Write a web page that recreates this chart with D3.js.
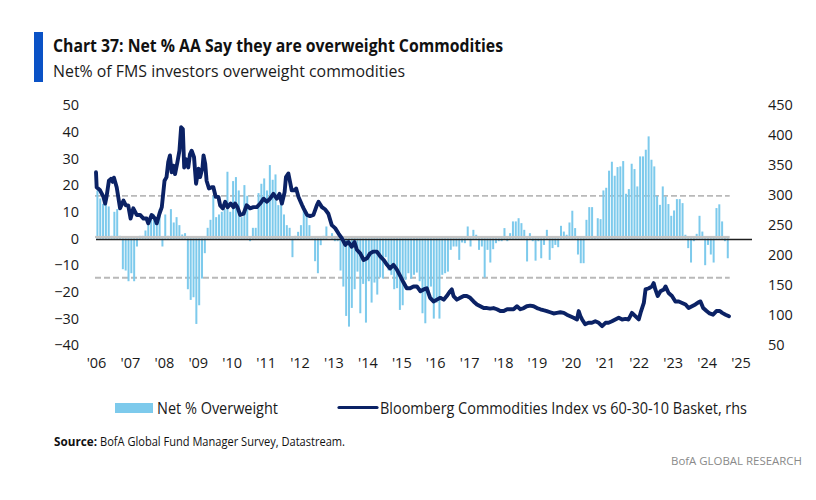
<!DOCTYPE html>
<html>
<head>
<meta charset="utf-8">
<script src="https://cdn.jsdelivr.net/npm/d3@7"></script>
<style>
  html, body { margin: 0; padding: 0; background: #fff; }
  svg { display: block; }
  text { font-family: "Open Sans", "Noto Sans", sans-serif; }
</style>
</head>
<body>
<svg id="chart" width="816" height="500"></svg>
<script>
// ---------------- DATA ----------------
const titleText = "Chart 37: Net % AA Say they are overweight Commodities";
const subtitleText = "Net% of FMS investors overweight commodities";
const barSeriesName = "Net % Overweight";
const lineSeriesName = "Bloomberg Commodities Index vs 60-30-10 Basket, rhs";
const sourceLabel = "Source:";
const sourceText = "BofA Global Fund Manager Survey, Datastream.";
const brandText = "BofA GLOBAL RESEARCH";

const leftTicks = [50, 40, 30, 20, 10, 0, -10, -20, -30, -40];
const rightTicks = [450, 400, 350, 300, 250, 200, 150, 100, 50];
const yearTicks = [2006,2007,2008,2009,2010,2011,2012,2013,2014,2015,2016,2017,2018,2019,2020,2021,2022,2023,2024,2025];
const yearLabels = ["'06","'07","'08","'09","'10","'11","'12","'13","'14","'15","'16","'17","'18","'19","'20","'21","'22","'23","'24","'25"];
const bandLevels = [16, -14.7];   // dashed reference lines (left axis)

// Monthly Net % overweight, starting Jan 2006
const barStart = 2006;
const netOverweight = [
  18, 15, 13, 13, 12, 1, 10, 11, 1, -11.5, -12, -16,
  -13, -16, -3, 1, 1, 3, 7, 9, 9, 8, 11, -3,
  9, 1, 11, 6, 8, 5, 1.5, 2, -19, -23, -22, -32,
  -25, -15, -5.5, 4, 7, 16, 8, 9, 10, 11, 25, 10,
  21.5, 23, 18, 8, 20, 16, -1, 4, 4, 17, 20.5, 22.5,
  18, 27.5, 22, 24, 12.5, 15, 9, 5, 4, -7, 1, 2.5,
  5, 12, 10, 5, -0.5, -8.5, -13, -2.5, 1, 4.5, 0, 2,
  -1, -1, -12, -18, -29, -33, -26, -19, -12.4, -28, -17, -31.5,
  -16, -24, -16.5, -21, -14.6, -15, -7, -12, -13.6, -19, -18.6, -26.75,
  -25, -15.5, -13, -15, -13.6, -12.75, -16, -28, -31.75, -20.5, -18, -30,
  -24, -30, -13.6, -13, -12.4, -4.25, -3, -3, -8, -1.5, -1.75, 4.5,
  -3, 3.25, 1.4, -4.25, -3, -14.6, -4.25, -9, -4, -1.75, -1, -1,
  3.9, -1, 2, 6.4, 6.4, 7.6, 5.75, 3.25, -8.6, 2, -1, -8.3,
  -1, -7.4, -2.4, 3.25, -8, -3.6, -2.4, -3.25, 4.75, 2.6, 1.4, 6,
  10.4, 3.9, -6, -9.25, -9.25, 7, 11.75, 11.75, 0.75, 7.6, 7.25, 18,
  19, 25.4, 28.75, 23.5, 26.75, 27, 29, 16.75, 18.5, 28, 26, 19.5,
  30.75, 30.75, 33.25, 38.25, 29.5, 27, 16, 12.6, 19.5, 15.75, 12.9, 8.5,
  10.5, 14.75, 14.75, 13.25, 1.4, -3.6, -9, -1, 1.75, 8.5, 2.6, -10,
  -2.4, -6, -9, 11.4, 12.8, 6.4, -1, -7.4
];

// Bloomberg Commodities Index vs 60-30-10 basket (rhs), decimal years
const lineYears = [
  2006.00,2006.02,2006.12,2006.22,2006.27,2006.31,2006.38,2006.44,2006.49,2006.53,2006.61,2006.71,2006.81,2006.88,2006.95,
  2007.02,2007.10,2007.20,2007.30,2007.40,2007.49,2007.54,2007.64,2007.74,2007.79,2007.87,2007.94,
  2008.02,2008.08,2008.13,2008.18,2008.23,2008.28,2008.33,2008.40,2008.46,2008.51,2008.56,2008.60,2008.65,2008.72,2008.77,2008.82,2008.89,2008.95,
  2009.02,2009.07,2009.14,2009.17,2009.22,2009.26,2009.33,2009.41,2009.46,2009.53,2009.61,2009.66,2009.74,2009.81,2009.88,2009.97,
  2010.05,2010.10,2010.17,2010.25,2010.35,2010.44,2010.54,2010.64,2010.74,2010.84,2010.94,
  2011.04,2011.13,2011.23,2011.33,2011.41,2011.48,2011.56,2011.60,2011.67,2011.72,2011.77,2011.85,2011.90,2011.97,
  2012.07,2012.12,2012.22,2012.31,2012.41,2012.51,2012.56,2012.66,2012.76,2012.85,2012.95,
  2013.05,2013.15,2013.25,2013.35,2013.44,2013.54,2013.62,2013.69,2013.79,2013.89,2013.99,
  2014.08,2014.18,2014.28,2014.38,2014.48,2014.58,2014.67,2014.77,2014.87,2014.97,
  2015.07,2015.16,2015.26,2015.36,2015.46,2015.56,2015.66,2015.75,2015.85,2015.95,
  2016.05,2016.15,2016.25,2016.34,2016.44,2016.49,2016.54,2016.64,2016.74,2016.84,2016.93,
  2017.03,2017.13,2017.23,2017.33,2017.43,2017.53,2017.62,2017.72,2017.82,2017.92,
  2018.02,2018.12,2018.21,2018.31,2018.41,2018.51,2018.61,2018.70,2018.80,2018.90,
  2019.00,2019.10,2019.19,2019.29,2019.39,2019.49,2019.59,2019.69,2019.79,2019.88,2019.98,
  2020.08,2020.18,2020.23,2020.28,2020.33,2020.42,2020.52,2020.62,2020.72,2020.82,2020.92,
  2021.02,2021.11,2021.21,2021.31,2021.41,2021.51,2021.61,2021.70,2021.80,2021.90,
  2022.00,2022.07,2022.15,2022.20,2022.30,2022.39,2022.44,2022.49,2022.56,2022.64,2022.74,2022.79,2022.88,2022.98,
  2023.08,2023.18,2023.28,2023.38,2023.47,2023.57,2023.67,2023.77,2023.82,2023.90,
  2024.00,2024.09,2024.19,2024.29,2024.39,2024.46,2024.56,2024.66
];
const lineValues = [
  338,313,308,297,286,297,324,327,322,329,313,278,291,283,283,
  261,278,267,267,261,261,253,267,261,253,269,280,
  324,330,355,366,338,349,335,355,374,413,410,346,360,346,368,374,363,319,
  344,330,346,366,352,324,311,313,313,297,297,283,278,289,280,286,
  280,286,280,267,269,283,278,280,280,286,294,
  289,294,302,294,302,286,305,330,336,322,308,308,311,297,
  284,278,267,265,267,283,289,280,276,269,250,
  245,236,228,217,222,214,222,209,203,192,195,
  203,206,206,198,192,184,178,184,176,165,
  154,145,145,148,148,140,143,145,129,123,
  126,129,126,132,140,143,132,126,129,132,132,
  129,123,118,115,112,112,111,112,110,107,
  107,110,110,110,115,110,112,115,116,115,
  112,110,108.5,107,105,103,104,105,104,101,98.5,
  96,93,107,98.5,93,85,87.5,87.5,90,87.5,82,
  87.5,87.5,90,93,96,93,94,93,104,98.5,
  93,107,120.5,143,145,148,153.5,143,132,140,143,148,137,132,
  123,123,120.5,118,112,115,118,122,123,112,
  107,103,101,107,107,104,101,98.5
];

// ---------------- DRAW ----------------
const svg = d3.select("#chart");
const W = 816, H = 500;
svg.append("rect").attr("width", W).attr("height", H).attr("fill", "#fff");

const x = d3.scaleLinear().domain([2006, 2025]).range([96, 740.5]);
const yL = d3.scaleLinear().domain([-40, 50]).range([345.3, 105]);
const yR = d3.scaleLinear().domain([50, 450]).range([345.3, 105]);

const barColor = "#7dcaec";
const lineColor = "#0b2265";

// Title block
svg.append("rect").attr("x", 34).attr("y", 32).attr("width", 9).attr("height", 50).attr("fill", "#0a52c6");
svg.append("text").attr("x", 53).attr("y", 52)
  .attr("font-family", "Roboto, 'Open Sans', sans-serif").attr("font-weight", 700).attr("font-size", 17.5)
  .attr("fill", "#111").attr("textLength", 450).attr("lengthAdjust", "spacingAndGlyphs").text(titleText);
svg.append("text").attr("x", 53).attr("y", 77)
  .attr("font-family", "Roboto, 'Open Sans', sans-serif").attr("font-size", 16)
  .attr("fill", "#1a1a1a").attr("textLength", 352).attr("lengthAdjust", "spacingAndGlyphs").text(subtitleText);

// Dashed reference lines
const plotX0 = x(2006) - 1, plotX1 = x(barStart + netOverweight.length / 12) + 0.5;
svg.append("g").selectAll("line").data(bandLevels).join("line")
  .attr("x1", plotX0).attr("x2", plotX1)
  .attr("y1", d => yL(d)).attr("y2", d => yL(d))
  .attr("stroke", "#b9b9b9").attr("stroke-width", 1.8).attr("stroke-dasharray", "6,3");

// Bars
const barW = 2;
svg.append("g").selectAll("rect").data(netOverweight).join("rect")
  .attr("x", (d, i) => x(barStart + (i + 0.5) / 12) - barW / 2)
  .attr("width", barW)
  .attr("y", d => d >= 0 ? yL(d) : yL(0))
  .attr("height", d => Math.abs(yL(d) - yL(0)))
  .attr("fill", barColor);

// Zero lines
svg.append("rect").attr("x", plotX0).attr("width", plotX1 - plotX0)
  .attr("y", yL(0) - 2.6).attr("height", 2.2).attr("fill", "#c4c4c4");
svg.append("line").attr("x1", x(2006)).attr("x2", 752)
  .attr("y1", yL(0) + 1).attr("y2", yL(0) + 1)
  .attr("stroke", "#1e1e1e").attr("stroke-width", 1.6);

// Line
const lineData = lineYears.map((t, i) => [t, lineValues[i]]);
svg.append("path").datum(lineData)
  .attr("fill", "none").attr("stroke", lineColor).attr("stroke-width", 3.9)
  .attr("stroke-linejoin", "round").attr("stroke-linecap", "round")
  .attr("d", d3.line().x(d => x(d[0])).y(d => yR(d[1])));

// Axes (labels only)
const tickFont = "'Open Sans', sans-serif";
const leftAxis = d3.axisLeft(yL).tickValues(leftTicks).tickSize(0).tickPadding(0);
svg.append("g").attr("transform", "translate(79,0)").call(leftAxis)
  .call(g => g.select(".domain").remove())
  .selectAll("text").attr("font-family", tickFont).attr("font-size", 14.5).attr("fill", "#1a1a1a");

const rightAxis = d3.axisRight(yR).tickValues(rightTicks).tickSize(0).tickPadding(0);
svg.append("g").attr("transform", "translate(768,0)").call(rightAxis)
  .call(g => g.select(".domain").remove())
  .selectAll("text").attr("font-family", tickFont).attr("font-size", 14.5).attr("fill", "#1a1a1a");

const bottomAxis = d3.axisBottom(x).tickValues(yearTicks).tickSize(0).tickPadding(0)
  .tickFormat((d, i) => yearLabels[i]);
svg.append("g").attr("transform", "translate(0,358)").call(bottomAxis)
  .call(g => g.select(".domain").remove())
  .selectAll("text").attr("font-family", tickFont).attr("font-size", 14.5).attr("fill", "#1a1a1a");

// Legend
const legFont = "Roboto, 'Open Sans', sans-serif";
svg.append("rect").attr("x", 115).attr("y", 403).attr("width", 38).attr("height", 10).attr("fill", barColor);
svg.append("text").attr("x", 157).attr("y", 413.5).attr("font-family", legFont).attr("font-size", 16)
  .attr("fill", "#1a1a1a").attr("textLength", 121).attr("lengthAdjust", "spacingAndGlyphs").text(barSeriesName);
svg.append("line").attr("x1", 339).attr("x2", 377).attr("y1", 407.5).attr("y2", 407.5)
  .attr("stroke", lineColor).attr("stroke-width", 3.2).attr("stroke-linecap", "round");
svg.append("text").attr("x", 380).attr("y", 413.5).attr("font-family", legFont).attr("font-size", 16)
  .attr("fill", "#1a1a1a").attr("textLength", 367).attr("lengthAdjust", "spacingAndGlyphs").text(lineSeriesName);

// Source
svg.append("text").attr("x", 54).attr("y", 446).attr("font-family", legFont).attr("font-size", 12.5)
  .attr("font-weight", 700).attr("fill", "#111")
  .attr("textLength", 43).attr("lengthAdjust", "spacingAndGlyphs").text(sourceLabel);
svg.append("text").attr("x", 100).attr("y", 446).attr("font-family", legFont).attr("font-size", 12.5)
  .attr("fill", "#111")
  .attr("textLength", 245).attr("lengthAdjust", "spacingAndGlyphs").text(sourceText);

// Brand
svg.append("text").attr("x", 671).attr("y", 465)
  .attr("font-family", legFont).attr("font-size", 11.5).attr("fill", "#8a8a8a")
  .attr("textLength", 131).attr("lengthAdjust", "spacingAndGlyphs").text(brandText);
</script>
</body>
</html>
